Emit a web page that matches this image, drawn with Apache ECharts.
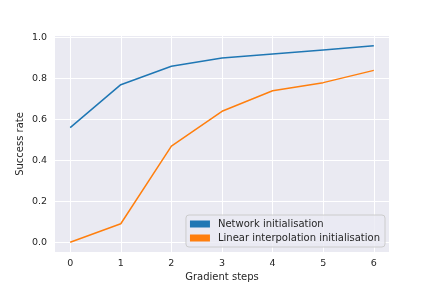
<!DOCTYPE html>
<html><head><meta charset="utf-8">
<script src="https://cdn.jsdelivr.net/npm/echarts@6/dist/echarts.min.js"></script>
<style>html,body{margin:0;padding:0;background:#fff}#c{width:432px;height:288px}</style>
</head><body><div id="c"></div>
<script>
const steps = [0, 1, 2, 3, 4, 5, 6];
const networkInit = [0.56, 0.77, 0.86, 0.90, 0.92, 0.94, 0.96];
const linearInit = [0.00, 0.09, 0.47, 0.64, 0.74, 0.78, 0.84];
const xTicks = [0, 1, 2, 3, 4, 5, 6];
const yTicks = [0, 0.2, 0.4, 0.6, 0.8, 1.0];

const font = 'DejaVu Sans';
const txt = '#262626';
const chart = echarts.init(document.getElementById('c'), null, {renderer: 'canvas'});
chart.setOption({
  animation: false,
  textStyle: {fontFamily: font},
  grid: {left: 55, right: 43, top: 36, bottom: 36, show: true, backgroundColor: '#EAEAF2', borderWidth: 0},
  xAxis: {
    type: 'value', min: -0.3, max: 6.3,
    name: 'Gradient steps', nameLocation: 'middle', nameGap: 20, nameMoveOverlap: false,
    nameTextStyle: {fontSize: 10, color: txt, fontFamily: font},
    axisLine: {show: false},
    axisTick: {show: false, customValues: xTicks},
    axisLabel: {customValues: xTicks, fontSize: 9.5, color: txt, margin: 7, fontFamily: font},
    splitLine: {show: true, lineStyle: {color: '#ffffff', width: 1}}
  },
  yAxis: {
    type: 'value', min: -0.048, max: 1.008,
    name: 'Success rate', nameLocation: 'middle', nameGap: 30, nameMoveOverlap: false,
    nameTextStyle: {fontSize: 10, color: txt, fontFamily: font},
    axisLine: {show: false},
    axisTick: {show: false, customValues: yTicks},
    axisLabel: {customValues: yTicks, fontSize: 9.5, color: txt, margin: 8, fontFamily: font,
      formatter: v => v.toFixed(1)},
    splitLine: {show: true, lineStyle: {color: '#ffffff', width: 1}}
  },
  legend: {
    orient: 'vertical', right: 47, bottom: 41,
    icon: 'rect', itemWidth: 20, itemHeight: 7, itemGap: 4,
    padding: [4, 5, 4, 4],
    backgroundColor: 'rgba(234,234,242,0.8)', borderColor: '#cccccc', borderWidth: 1, borderRadius: 3,
    textStyle: {fontSize: 10, color: txt, fontFamily: font, padding: [0, 0, 0, 3]},
    data: ['Network initialisation', 'Linear interpolation initialisation']
  },
  series: [
    {name: 'Network initialisation', type: 'line', data: steps.map((s, i) => [s, networkInit[i]]),
      showSymbol: false, symbol: 'none', lineStyle: {color: '#1f77b4', width: 1.5}, itemStyle: {color: '#1f77b4'}},
    {name: 'Linear interpolation initialisation', type: 'line', data: steps.map((s, i) => [s, linearInit[i]]),
      showSymbol: false, symbol: 'none', lineStyle: {color: '#ff7f0e', width: 1.5}, itemStyle: {color: '#ff7f0e'}}
  ]
});
</script></body></html>
